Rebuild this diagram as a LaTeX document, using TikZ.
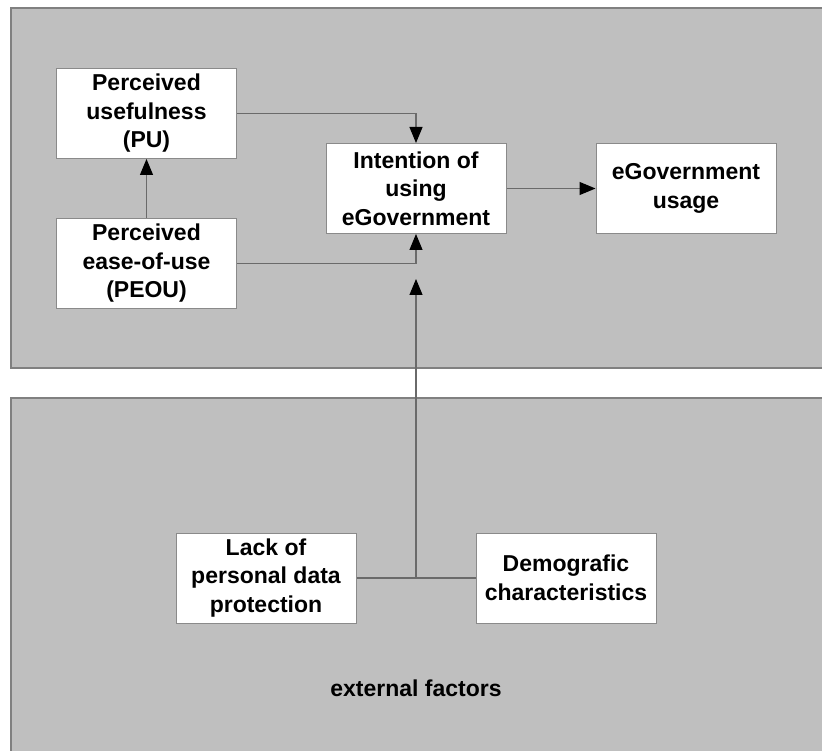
\documentclass[tikz,border=0pt]{standalone}
\usepackage{fontspec}
\setmainfont{Liberation Sans}
\usetikzlibrary{arrows.meta}
\definecolor{panelfill}{HTML}{BFBFBF}
\definecolor{panelborder}{HTML}{808080}
\definecolor{linegray}{HTML}{6A6A6A}
\definecolor{boxborder}{HTML}{8A8A8A}
\tikzset{
  panel/.style={fill=panelfill, draw=panelborder, line width=1.2pt},
  box/.style={draw=boxborder, fill=white, line width=1pt, minimum width=180pt, minimum height=90pt,
    align=center, inner sep=0pt, font=\bfseries\fontsize{23}{28.5}\selectfont},
  conn/.style={draw=linegray, line width=1.1pt},
  arr/.style={conn, -{Triangle[length=16pt,width=13pt,fill=black,color=black]}},
  lbl/.style={font=\bfseries\fontsize{23}{28}\selectfont}
}
\begin{document}
\begin{tikzpicture}[x=1pt,y=-1pt]
\useasboundingbox (0,0) rectangle (822,751);
\draw[panel] (11,8) rectangle (840,368);
\draw[panel] (11,398) rectangle (840,770);

\node[box] (PU) at (146.5,113.5) {Perceived\\usefulness\\(PU)};
\node[box] (PEOU) at (146.5,263.5) {Perceived\\ease-of-use\\(PEOU)};
\node[box] (Int) at (416,188.5) {Intention of\\using\\eGovernment};
\node[box] (Use) at (686,188.5) {eGovernment\\usage};
\node[box] (Lack) at (266,578) {Lack of\\personal data\\protection};
\node[box] (Demo) at (566,578) {Demografic\\characteristics};
\node[lbl] (ext) at (416,688) {external factors};

\coordinate (j) at (Lack.east -| Int.south);
\coordinate (tip) at (416,279);

\draw[arr] (PU.east) -| (Int.north);
\draw[arr] (PEOU.east) -| (Int.south);
\draw[arr] (PEOU.north) -- (PU.south);
\draw[arr] (Int.east) -- (Use.west);
\draw[conn] (Lack.east) -- (Demo.west);
\draw[arr] (j) -- (tip);
\end{tikzpicture}
\end{document}
